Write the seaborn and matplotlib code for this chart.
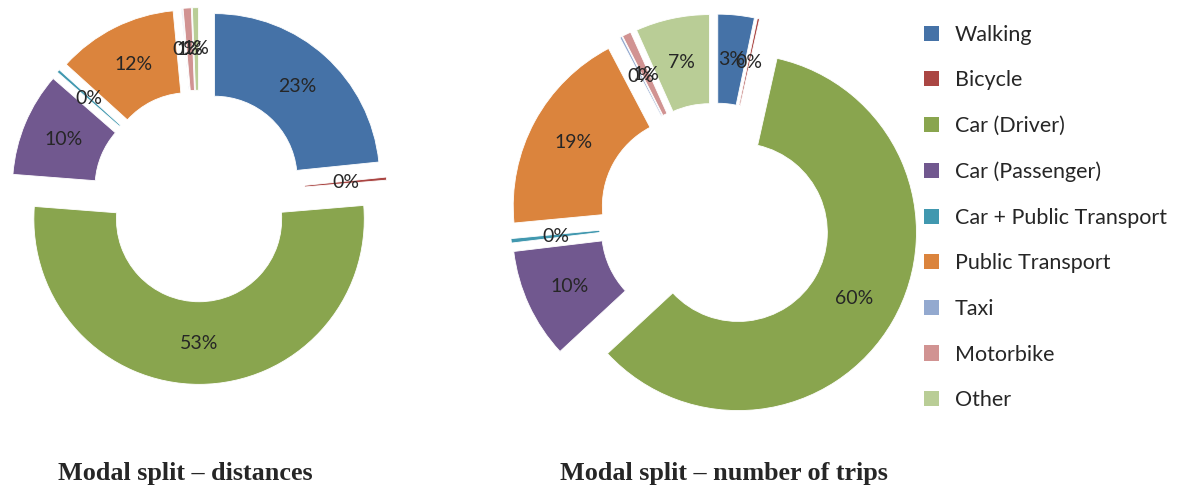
import matplotlib
matplotlib.use("Agg")
from matplotlib import pyplot as plt
from matplotlib.patches import Patch
import seaborn as sns

sns.set_theme(style="white")
plt.rcParams["font.family"] = ["Lato", "DejaVu Sans"]

# modal split shares (%)
modes = ["Walking", "Bicycle", "Car (Driver)", "Car (Passenger)",
         "Car + Public Transport", "Public Transport", "Taxi", "Motorbike", "Other"]
dist_share = [23.4, 0.3, 52.6, 10.2, 0.3, 11.8, 0.1, 0.8, 0.6]
trip_share = [3.3, 0.2, 59.6, 10.0, 0.4, 18.8, 0.2, 0.8, 6.7]
titles = ["Modal split \u2013 distances", "Modal split \u2013 number of trips"]

colors = sns.color_palette(["#4572A7", "#AA4643", "#89A54E", "#71588F", "#4198AF",
                            "#DB843D", "#93A9CF", "#D19392", "#B9CD96"])

W, H = 1180, 486
fig = plt.figure(figsize=(W / 100, H / 100), dpi=100)


def px_axes(cx, cy, half):
    return fig.add_axes([(cx - half) / W, 1 - (cy + half) / H, 2 * half / W, 2 * half / H])


def donut(ax, vals, expl):
    wedges, texts, autotexts = ax.pie(
        vals, colors=colors, startangle=90, counterclock=False,
        explode=[expl] * len(vals), autopct="%.0f%%", pctdistance=0.75,
        wedgeprops=dict(width=0.5, edgecolor="white", linewidth=0.6),
        textprops=dict(fontsize=14, color="#262626"))
    ax.set_xlim(-1.15, 1.15)
    ax.set_ylim(-1.15, 1.15)
    ax.set_aspect("equal")
    ax.axis("off")
    return wedges


ax1 = px_axes(199, 196, 190)
donut(ax1, dist_share, 0.14)
ax2 = px_axes(715, 219, 205)
donut(ax2, trip_share, 0.15)

fig.text(58 / W, 1 - 473 / H, titles[0], fontsize=18.8, fontweight="bold",
         family="Liberation Serif", va="center", ha="left")
fig.text(560 / W, 1 - 473 / H, titles[1], fontsize=18.8, fontweight="bold",
         family="Liberation Serif", va="center", ha="left")

handles = [Patch(facecolor=c, edgecolor="none") for c in colors]
fig.legend(handles, modes, loc="upper left", bbox_to_anchor=(915 / W, 1 - 16 / H),
           frameon=False, fontsize=15.5, handlelength=0.7, handleheight=0.7,
           labelspacing=1.19, handletextpad=0.75, borderaxespad=0)

fig.savefig("out.png", dpi=100)
